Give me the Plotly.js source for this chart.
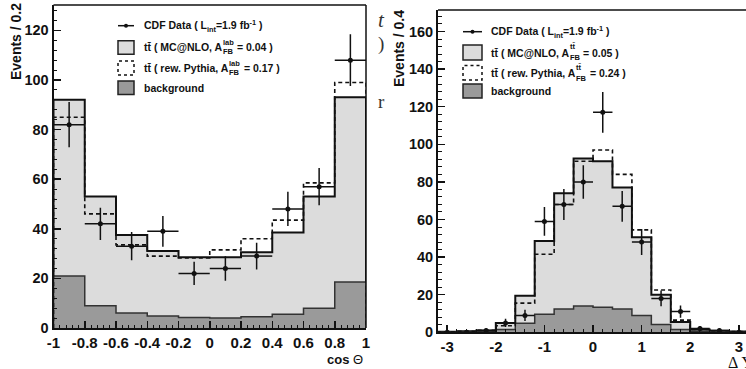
<!DOCTYPE html>
<html><head><meta charset="utf-8">
<script src="https://cdn.plot.ly/plotly-3.0.1.min.js"></script>
<style>html,body{margin:0;padding:0;background:#fff;overflow:hidden;width:746px;height:369px}#chart{width:760px;height:369px}</style>
</head><body><div id="chart"></div>
<script>
// ---------- Left panel: cos Theta ----------
const cosEdges   = [-1, -0.8, -0.6, -0.4, -0.2, 0, 0.2, 0.4, 0.6, 0.8, 1];
const cosCenters = [-0.9, -0.7, -0.5, -0.3, -0.1, 0.1, 0.3, 0.5, 0.7, 0.9];
const cosHalfBin = [0.1, 0.1, 0.1, 0.1, 0.1, 0.1, 0.1, 0.1, 0.1, 0.1];
const cosMcnlo   = [92, 53, 37.5, 31, 28.5, 28.5, 30.5, 38.5, 53, 93];
const cosPythia  = [85, 46, 33.5, 29, 28.2, 31.5, 36, 43.5, 58.5, 99];
const cosBkg     = [21, 9, 6, 4.8, 4.2, 4, 4.5, 5.5, 8, 18.5];
const cosData    = [82, 42, 33, 39, 22, 24, 29, 48, 57, 108];
const cosErr     = [9.1, 6.5, 5.7, 6.2, 4.7, 4.9, 5.4, 6.9, 7.5, 10.4];
const cosTickVals = [-1, -0.8, -0.6, -0.4, -0.2, 0, 0.2, 0.4, 0.6, 0.8, 1];
const cosTickText = ['-1', '-0.8', '-0.6', '-0.4', '-0.2', '0', '0.2', '0.4', '0.6', '0.8', '1'];
const cosYTickVals = [0, 20, 40, 60, 80, 100, 120];
const cosYTickText = ['0', '20', '40', '60', '80', '100', '120'];

// ---------- Right panel: Delta Y ----------
const dyEdges   = [-3.2, -2.8, -2.4, -2.0, -1.6, -1.2, -0.8, -0.4, 0, 0.4, 0.8, 1.2, 1.6, 2.0, 2.4, 2.8, 3.2];
const dyCenters = [-3.0, -2.6, -2.2, -1.8, -1.4, -1.0, -0.6, -0.2, 0.2, 0.6, 1.0, 1.4, 1.8, 2.2, 2.6, 3.0];
const dyHalfBin = [0.2, 0.2, 0.2, 0.2, 0.2, 0.2, 0.2, 0.2, 0.2, 0.2, 0.2, 0.2, 0.2, 0.2, 0.2, 0.2];
const dyMcnlo   = [0.3, 0.5, 1, 5, 19.5, 48.5, 74, 92.5, 91, 77, 50.5, 20, 5.5, 1.5, 0.8, 0.4];
const dyPythia  = [0.3, 0.5, 1, 3.5, 15.5, 41.5, 68, 91, 97, 84, 54.5, 22.5, 6.5, 1.5, 0.8, 0.4];
const dyBkg     = [0.2, 0.3, 0.5, 1.5, 4.8, 9.6, 12.4, 14, 13.3, 12.4, 9, 4.2, 1.5, 0.6, 0.3, 0.2];
const dyData    = [0, 0, 1, 5, 9, 59, 68, 80, 117, 67, 48, 18, 11, 2, 1, 0];
const dyErr     = [0, 0, 1, 2.2, 3, 7.7, 8.2, 8.9, 10.8, 8.2, 6.9, 4.2, 3.3, 1.4, 1, 0];
const dyTickVals = [-3, -2, -1, 0, 1, 2, 3];
const dyTickText = ['-3', '-2', '-1', '0', '1', '2', '3'];
const dyYTickVals = [0, 20, 40, 60, 80, 100, 120, 140, 160];
const dyYTickText = ['0', '20', '40', '60', '80', '100', '120', '140', '160'];

// ---------- Legend text ----------
const legendLeft  = {data: 'CDF Data ( L<sub>int</sub>=1.9 fb<sup>-1</sup> )', mcA: 'tt\u0304 ( MC@NLO, A', mcSup: 'lab', mcRest: ' = 0.04 )', pyA: 'tt\u0304 ( rew. Pythia, A', pySup: 'lab', pyRest: ' = 0.17 )', sub: 'FB', bkg: 'background'};
const legendRight = {data: 'CDF Data ( L<sub>int</sub>=1.9 fb<sup>-1</sup> )', mcA: 'tt\u0304 ( MC@NLO, A', mcSup: 'tt\u0304', mcRest: ' = 0.05 )', pyA: 'tt\u0304 ( rew. Pythia, A', pySup: 'tt\u0304', pyRest: ' = 0.24 )', sub: 'FB', bkg: 'background'};

const W = 760, H = 369;
const px = x => x / W;
const py = y => 1 - y / H;
const INK = '#111';
const LIGHT = '#dcdcdc', DARK = '#9a9a9a';
const SANS = 'Liberation Sans, Arial, sans-serif';

function step(edges, vals) {
  const xs = [edges[0]], ys = [0];
  for (let i = 0; i < vals.length; i++) { xs.push(edges[i]); ys.push(vals[i]); }
  xs.push(edges[vals.length]); ys.push(vals[vals.length - 1]);
  xs.push(edges[vals.length]); ys.push(0);
  return {xs, ys};
}

function panelTraces(edges, centers, half, mc, py_, bkg, data, err, xa, ya) {
  const m = step(edges, mc), b = step(edges, bkg), p = step(edges, py_);
  return [
    {x: m.xs, y: m.ys, xaxis: xa, yaxis: ya, type: 'scatter', mode: 'lines', line: {shape: 'hv', color: INK, width: 2}, fill: 'tozeroy', fillcolor: LIGHT, hoverinfo: 'skip'},
    {x: b.xs, y: b.ys, xaxis: xa, yaxis: ya, type: 'scatter', mode: 'lines', line: {shape: 'hv', color: '#333', width: 1.5}, fill: 'tozeroy', fillcolor: DARK, hoverinfo: 'skip'},
    {x: p.xs, y: p.ys, xaxis: xa, yaxis: ya, type: 'scatter', mode: 'lines', line: {shape: 'hv', color: INK, width: 1.6, dash: '4px,3px'}, hoverinfo: 'skip'},
    {x: centers, y: data, xaxis: xa, yaxis: ya, type: 'scatter', mode: 'markers', marker: {symbol: 'circle', size: 5, color: INK},
     error_y: {type: 'data', array: err, visible: true, color: INK, thickness: 1.5, width: 0},
     error_x: {type: 'data', array: half, visible: true, color: INK, thickness: 1.5, width: 0}, hoverinfo: 'skip'}
  ];
}

const traces = [].concat(
  panelTraces(cosEdges, cosCenters, cosHalfBin, cosMcnlo, cosPythia, cosBkg, cosData, cosErr, 'x', 'y'),
  panelTraces(dyEdges, dyCenters, dyHalfBin, dyMcnlo, dyPythia, dyBkg, dyData, dyErr, 'x2', 'y2')
);

const tickFont = {family: SANS, size: 15, weight: 'bold', color: INK};
const ytickFont = {family: SANS, size: 14.5, weight: 'bold', color: INK};
function xAxis(domain, range, tv, tt, minorDtick, minorTick0, anchor) {
  return {domain, range, anchor, showline: true, linewidth: 2, linecolor: INK, ticks: 'inside', ticklen: 7, tickwidth: 1.5, tickcolor: INK,
    tickmode: 'array', tickvals: tv, ticktext: tt, showgrid: false, zeroline: false, tickfont: tickFont,
    minor: {tickmode: 'linear', tick0: minorTick0, dtick: minorDtick, ticks: 'inside', ticklen: 3.5, tickwidth: 1, tickcolor: INK, showgrid: false}};
}
function yAxis(domain, range, tv, tt, anchor) {
  return {domain, range, anchor, showline: true, linewidth: 2, linecolor: INK, ticks: 'inside', ticklen: 7, tickwidth: 1.5, tickcolor: INK,
    tickmode: 'array', tickvals: tv, ticktext: tt, showgrid: false, zeroline: false, tickfont: ytickFont,
    minor: {tickmode: 'linear', tick0: 0, dtick: 4, ticks: 'inside', ticklen: 3.5, tickwidth: 1, tickcolor: INK, showgrid: false}};
}

const L = {x0: 53.5, x1: 366, yTop: 5, yBot: 328};
const R = {x0: 438, x1: 438 + 6.44 * 48.6, yTop: 10, yBot: 332.3};

const layout = {
  width: W, height: H, margin: {l: 0, r: 0, t: 0, b: 0}, paper_bgcolor: '#fff', plot_bgcolor: '#fff', showlegend: false,
  xaxis: xAxis([px(L.x0), px(L.x1)], [-1, 1], cosTickVals, cosTickText, 0.04, -1, 'y'),
  yaxis: yAxis([py(L.yBot), py(L.yTop)], [0, (L.yBot - L.yTop) / 2.48], cosYTickVals, cosYTickText, 'x'),
  xaxis2: xAxis([px(R.x0), px(R.x1)], [-3.19, 3.25], dyTickVals, dyTickText, 0.2, 0, 'y2'),
  yaxis2: yAxis([py(R.yBot), py(R.yTop)], [0, (R.yBot - R.yTop) / 1.88], dyYTickVals, dyYTickText, 'x2'),
  shapes: [], annotations: []
};

// frame lines (top/right)
[['x', 'y'], ['x2', 'y2']].forEach(([xa, ya]) => {
  layout.shapes.push({type: 'line', xref: xa + ' domain', yref: ya + ' domain', x0: 0, x1: 1, y0: 1, y1: 1, line: {color: INK, width: 1.5}});
  layout.shapes.push({type: 'line', xref: xa + ' domain', yref: ya + ' domain', x0: 1, x1: 1, y0: 0, y1: 1, line: {color: INK, width: 1.5}});
});

function ann(text, x, y, opts) {
  layout.annotations.push(Object.assign({text, x: px(x), y: py(y), xref: 'paper', yref: 'paper', showarrow: false, xanchor: 'left', yanchor: 'middle',
    font: {family: SANS, size: 10.5, weight: 'bold', color: INK}, borderpad: 0}, opts || {}));
}

// axis titles
ann('Events / 0.2', 16, 42, {textangle: -90, xanchor: 'center', font: {family: SANS, size: 14, weight: 'bold', color: INK}});
ann('Events / 0.4', 399, 49, {textangle: -90, xanchor: 'center', font: {family: SANS, size: 14, weight: 'bold', color: INK}});
ann('<b>cos</b> \u0398', 364, 359, {xanchor: 'right', font: {family: SANS, size: 13, color: INK}});
ann('\u0394 Y', 727, 362, {font: {family: 'Liberation Serif, serif', size: 16, color: INK}});
// stray page-text fragments
ann('<i>t</i>', 377, 20, {font: {family: 'Liberation Serif, serif', size: 21, color: '#333'}});
ann(')', 377, 44, {font: {family: 'Liberation Serif, serif', size: 19, color: '#333'}});
ann('r', 377, 101, {font: {family: 'Liberation Serif, serif', size: 19, color: '#333'}});

// legend
const ctx = document.createElement('canvas').getContext('2d');
function textW(t, size) { ctx.font = 'bold ' + size + 'px "Liberation Sans"'; return ctx.measureText(t).width; }
const FS = 10.5, SFS = 7.5;
function legend(lg, boxX0, boxX1, lineY, rows, boxes, textX, supDy, subDy) {
  layout.shapes.push({type: 'line', xref: 'paper', yref: 'paper', x0: px(boxX0), x1: px(boxX1), y0: py(lineY), y1: py(lineY), line: {color: INK, width: 1.5}});
  const cx = (boxX0 + boxX1) / 2;
  layout.shapes.push({type: 'circle', xref: 'paper', yref: 'paper', x0: px(cx - 2), x1: px(cx + 2), y0: py(lineY + 2), y1: py(lineY - 2), fillcolor: INK, line: {width: 0}});
  layout.shapes.push({type: 'rect', xref: 'paper', yref: 'paper', x0: px(boxX0), x1: px(boxX1), y0: py(boxes[0][1]), y1: py(boxes[0][0]), fillcolor: LIGHT, line: {color: '#222', width: 1.5}});
  layout.shapes.push({type: 'rect', xref: 'paper', yref: 'paper', x0: px(boxX0), x1: px(boxX1), y0: py(boxes[1][1]), y1: py(boxes[1][0]), fillcolor: 'rgba(0,0,0,0)', line: {color: INK, width: 1.5, dash: '3px,3px'}});
  layout.shapes.push({type: 'rect', xref: 'paper', yref: 'paper', x0: px(boxX0), x1: px(boxX1), y0: py(boxes[2][1]), y1: py(boxes[2][0]), fillcolor: DARK, line: {color: '#222', width: 1.5}});
  ann(lg.data, textX, rows[0]);
  [[lg.mcA, lg.mcSup, lg.mcRest, rows[1]], [lg.pyA, lg.pySup, lg.pyRest, rows[2]]].forEach(([a, sup, rest, y]) => {
    const wa = textW(a, FS);
    ann(a, textX, y);
    ann(sup, textX + wa + 0.5, y + supDy, {font: {family: SANS, size: SFS, weight: 'bold', color: INK}});
    ann(lg.sub, textX + wa + 0.5, y + subDy, {font: {family: SANS, size: SFS, weight: 'bold', color: INK}});
    const ws = Math.max(textW(sup, SFS), textW(lg.sub, SFS));
    ann(rest, textX + wa + ws + 1, y);
  });
  ann(lg.bkg, textX, rows[3]);
}
legend(legendLeft, 118, 134, 25.7, [25.7, 47.3, 68.2, 87.5], [[40.7, 54.3], [61, 75], [81, 94.5]], 143, -4.5, 4);
legend(legendRight, 463, 482, 31.7, [31.7, 52.5, 73, 91], [[45, 60], [65.5, 80], [84, 98]], 490, -6, 5);

Plotly.newPlot('chart', traces, layout, {staticPlot: true, displayModeBar: false});
</script>
</body></html>
